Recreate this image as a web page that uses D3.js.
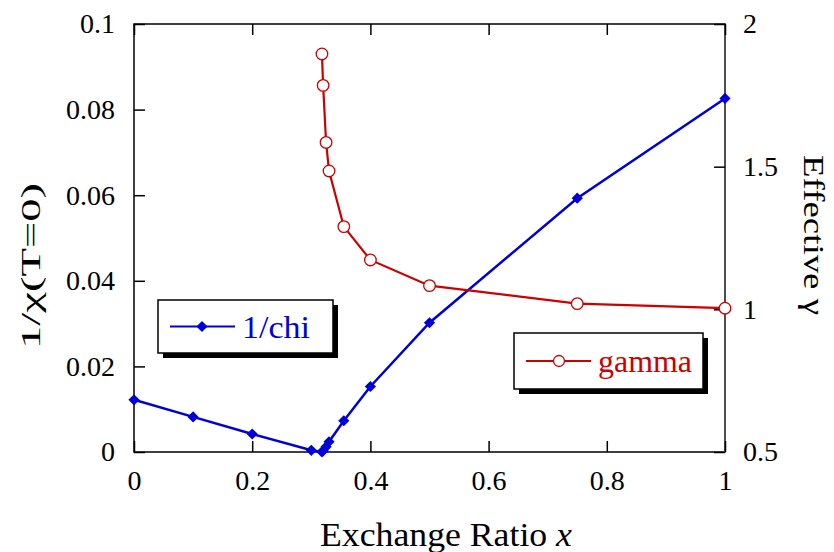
<!DOCTYPE html>
<html><head><meta charset="utf-8">
<script src="https://cdn.jsdelivr.net/npm/d3@7"></script>
<style>body{margin:0;background:#fff}text{font-family:"Liberation Serif","Times New Roman",serif}</style>
</head><body><svg id="c" width="834" height="552"></svg>
<script>
const chiX = [0, 0.1, 0.2, 0.3, 0.318, 0.32, 0.325, 0.33, 0.355, 0.4, 0.5, 0.75, 1.0];
const chiV = [0.0122, 0.0082, 0.0042, 0.0004, 0.0, 0.0003, 0.0012, 0.0024, 0.0073, 0.0153, 0.0302, 0.0593, 0.0826];
const gamX = [0.318, 0.32, 0.325, 0.33, 0.355, 0.4, 0.5, 0.75, 1.0];
const gamV = [1.895, 1.785, 1.585, 1.485, 1.29, 1.173, 1.083, 1.02, 1.004];
const xTicks = [0, 0.2, 0.4, 0.6, 0.8, 1];
const yLTicks = [0, 0.02, 0.04, 0.06, 0.08, 0.1];
const yRTicks = [0.5, 1, 1.5, 2];

const svg = d3.select("#c");
const L=134, R=725, T=24, B=452;
const x = d3.scaleLinear().domain([0,1]).range([L,R]);
const yl = d3.scaleLinear().domain([0,0.1]).range([B,T]);
const yr = d3.scaleLinear().domain([0.5,2]).range([B,T]);
const blue="#0000d8", red="#cc0000", fs=28;

svg.append("rect").attr("x",L).attr("y",T).attr("width",R-L).attr("height",B-T)
  .attr("fill","none").attr("stroke","#000").attr("stroke-width",1.5);
svg.append("line").attr("x1",R).attr("x2",R).attr("y1",T).attr("y2",B).attr("stroke","#555").attr("stroke-width",1.5);

const tl=11;
const gb = svg.append("g").attr("transform",`translate(0,${B})`)
  .call(d3.axisBottom(x).tickValues(xTicks).tickSize(-tl).tickPadding(18).tickFormat(d3.format("")));
const gt = svg.append("g").attr("transform",`translate(0,${T})`)
  .call(d3.axisTop(x).tickValues(xTicks).tickSize(-tl).tickFormat(""));
const gl = svg.append("g").attr("transform",`translate(${L},0)`)
  .call(d3.axisLeft(yl).tickValues(yLTicks).tickSize(-tl).tickPadding(19).tickFormat(d3.format("")));
const gr = svg.append("g").attr("transform",`translate(${R},0)`)
  .call(d3.axisRight(yr).tickValues(yRTicks).tickSize(-tl).tickPadding(18).tickFormat(d3.format("")));
[gb,gt,gl,gr].forEach(g=>{
  g.select(".domain").remove();
  g.selectAll(".tick line").attr("stroke","#000").attr("stroke-width",1.5);
  g.selectAll(".tick text").attr("font-size",fs).attr("fill","#000").attr("font-family","Liberation Serif");
});

const cdata = chiX.map((d,i)=>[d,chiV[i]]);
const gdata = gamX.map((d,i)=>[d,gamV[i]]);
svg.append("path").datum(cdata).attr("fill","none").attr("stroke",blue).attr("stroke-width",2.5)
  .attr("d",d3.line().x(d=>x(d[0])).y(d=>yl(d[1])));
svg.append("path").datum(gdata).attr("fill","none").attr("stroke",red).attr("stroke-width",2.2)
  .attr("d",d3.line().x(d=>x(d[0])).y(d=>yr(d[1])));
const diamond = d3.symbol().type(d3.symbolDiamond2).size(80);
svg.selectAll(".cm").data(cdata).join("path").attr("d",diamond)
  .attr("transform",d=>`translate(${x(d[0])},${yl(d[1])})`).attr("fill",blue);
svg.selectAll(".gm").data(gdata).join("circle").attr("cx",d=>x(d[0])).attr("cy",d=>yr(d[1])).attr("r",5.8)
  .attr("fill","#fff").attr("stroke",red).attr("stroke-width",1.3);

svg.append("text").attr("x",320).attr("y",546).attr("font-size",33)
  .attr("textLength",252).attr("lengthAdjust","spacingAndGlyphs")
  .html('Exchange Ratio <tspan font-style="italic">x</tspan>');
svg.append("text").attr("transform","translate(40,349) rotate(-90)").attr("font-size",28)
  .attr("textLength",166).attr("lengthAdjust","spacingAndGlyphs")
  .text("1/χ(T=0)");
svg.append("text").attr("transform","translate(804,155) rotate(90)").attr("font-size",30)
  .attr("textLength",160).attr("lengthAdjust","spacingAndGlyphs")
  .text("Effective γ");

function legend(x0,y0,w,h,color,label,marker,tw){
  const g=svg.append("g");
  g.append("rect").attr("x",x0+5).attr("y",y0+5).attr("width",w).attr("height",h).attr("fill","#000");
  g.append("rect").attr("x",x0).attr("y",y0).attr("width",w).attr("height",h).attr("fill","#fff").attr("stroke","#000").attr("stroke-width",1.5);
  const cy=y0+h/2;
  g.append("line").attr("x1",x0+12).attr("x2",x0+77).attr("y1",cy).attr("y2",cy).attr("stroke",color).attr("stroke-width",2);
  if(marker==="d") g.append("path").attr("d",diamond).attr("transform",`translate(${x0+44},${cy})`).attr("fill",color);
  else g.append("circle").attr("cx",x0+45).attr("cy",cy).attr("r",5.5).attr("fill","#fff").attr("stroke",color).attr("stroke-width",1.3);
  g.append("text").attr("x",x0+84).attr("y",cy+11).attr("font-size",31).attr("fill",color)
    .attr("textLength",tw).attr("lengthAdjust","spacingAndGlyphs").text(label);
}
legend(158,300,175,53,blue,"1/chi","d",68);
legend(514,333,189,56,red,"gamma","c",94);
</script></body></html>
